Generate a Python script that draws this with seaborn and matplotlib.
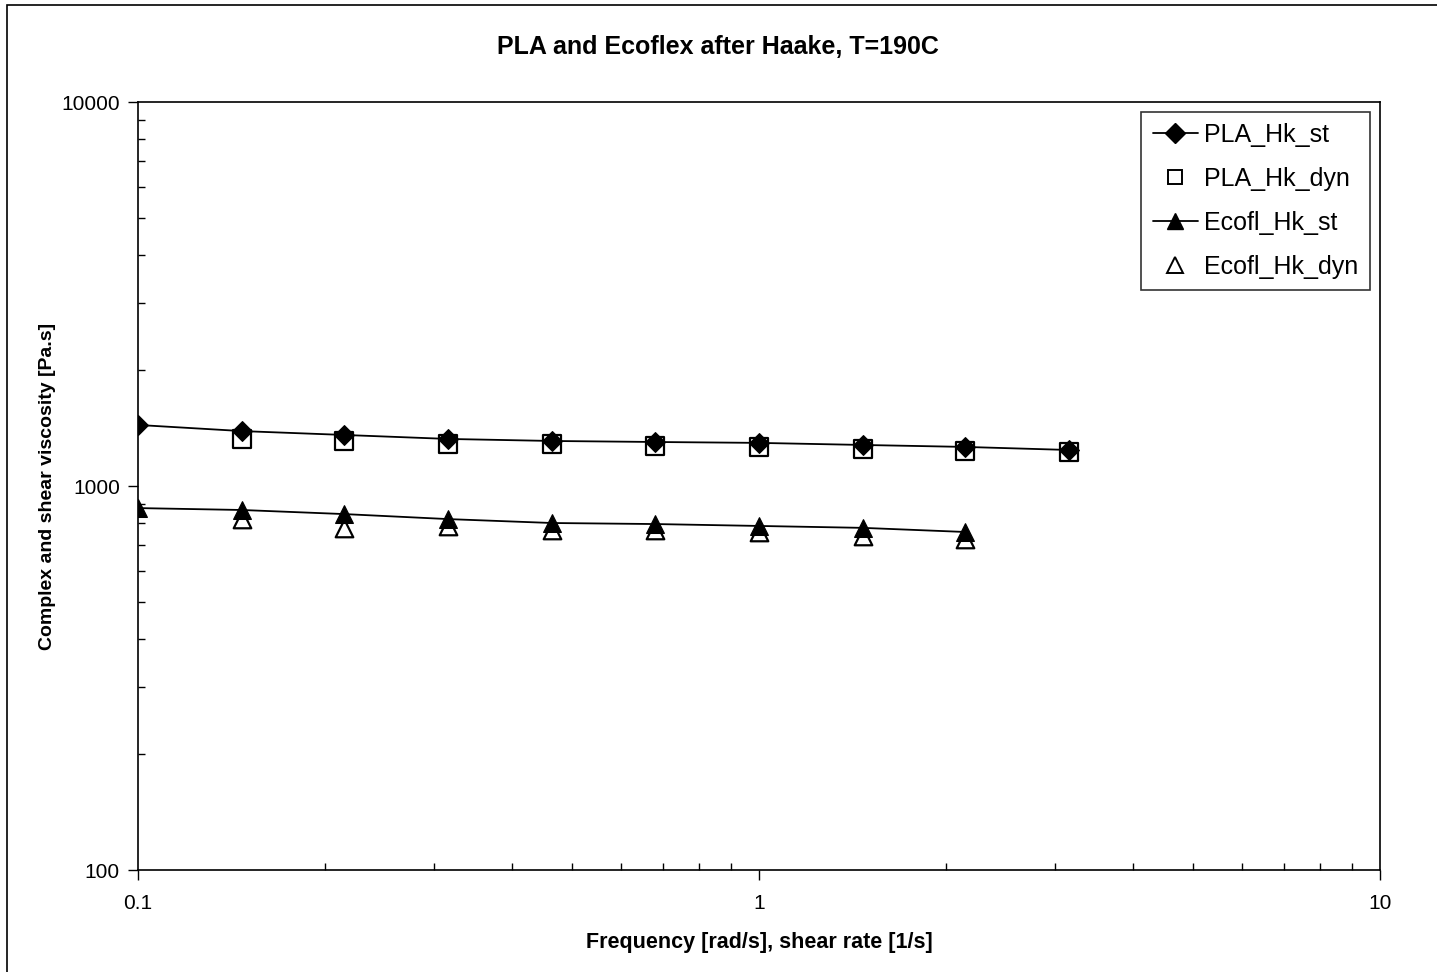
import numpy as np
import pandas as pd
import matplotlib
matplotlib.use("Agg")
import matplotlib.pyplot as plt
import seaborn as sns
from matplotlib.ticker import FixedLocator, FixedFormatter, LogLocator, NullFormatter
from matplotlib.patches import Rectangle
from matplotlib.lines import Line2D

sns.set_theme(style="white")
plt.rcParams['font.family'] = ['Liberation Sans', 'DejaVu Sans']
plt.rcParams['text.color'] = 'black'

# Data
freq = [0.1, 0.147, 0.215, 0.316, 0.464, 0.681, 1.0, 1.47, 2.15, 3.16]
pla_st = [1442, 1390, 1358, 1326, 1310, 1302, 1295, 1279, 1264, 1241]
pla_dyn = [None, 1326, 1310, 1287, 1287, 1271, 1264, 1249, 1234, 1226]
eco_st = [876, 866, 845, 820, 801, 796, 787, 778, 759, None]
eco_dyn = [None, 820, 778, 787, 768, 768, 759, 741, 728, None]

title = "PLA and Ecoflex after Haake, T=190C"
xlabel = "Frequency [rad/s], shear rate [1/s]"
ylabel = "Complex and shear viscosity [Pa.s]"
series_names = ["PLA_Hk_st", "PLA_Hk_dyn", "Ecofl_Hk_st", "Ecofl_Hk_dyn"]
xticks = [0.1, 1, 10]
xticklabels = ["0.1", "1", "10"]
yticks = [100, 1000, 10000]
yticklabels = ["100", "1000", "10000"]

def frame(vals, name):
    d = pd.DataFrame({"x": freq, "y": vals})
    d = d.dropna()
    d["series"] = name
    return d

fig = plt.figure(figsize=(14.37, 9.72), dpi=100)
ax = fig.add_axes([138/1437, 1-870/972, (1380-138)/1437, (870-102)/972])

d_pla_dyn = frame(pla_dyn, series_names[1])
d_eco_dyn = frame(eco_dyn, series_names[3])
d_pla_st = frame(pla_st, series_names[0])
d_eco_st = frame(eco_st, series_names[2])

sns.scatterplot(data=d_pla_dyn, x="x", y="y", ax=ax, marker="s", s=150,
                facecolor="white", edgecolor="black", linewidth=1.6, zorder=3)
sns.scatterplot(data=d_eco_dyn, x="x", y="y", ax=ax, marker="^", s=160,
                facecolor="white", edgecolor="black", linewidth=1.6, zorder=3)
sns.lineplot(data=d_pla_st, x="x", y="y", ax=ax, color="black", lw=1.3,
             marker="D", markersize=10, markerfacecolor="black",
             markeredgecolor="black", zorder=4)
sns.lineplot(data=d_eco_st, x="x", y="y", ax=ax, color="black", lw=1.3,
             marker="^", markersize=12.5, markerfacecolor="black",
             markeredgecolor="black", zorder=4)

ax.set_xscale("log")
ax.set_yscale("log")
ax.set_xlim(0.1, 10)
ax.set_ylim(100, 10000)

ax.xaxis.set_major_locator(FixedLocator(xticks))
ax.xaxis.set_major_formatter(FixedFormatter(xticklabels))
ax.yaxis.set_major_locator(FixedLocator(yticks))
ax.yaxis.set_major_formatter(FixedFormatter(yticklabels))
ax.xaxis.set_minor_locator(LogLocator(base=10, subs=np.arange(2, 10)))
ax.yaxis.set_minor_locator(LogLocator(base=10, subs=np.arange(2, 10)))
ax.xaxis.set_minor_formatter(NullFormatter())
ax.yaxis.set_minor_formatter(NullFormatter())

ax.tick_params(which="major", direction="out", length=7, width=1, color="black",
               labelsize=15, labelcolor="black", bottom=True, left=True)
ax.tick_params(axis="x", which="major", pad=10)
ax.tick_params(axis="y", which="major", pad=6)
ax.tick_params(which="minor", direction="in", length=5, width=1, color="black",
               bottom=True, left=True)
for sp in ax.spines.values():
    sp.set_visible(True)
    sp.set_color("black")
    sp.set_linewidth(1.2)
ax.grid(False)

ax.set_xlabel(xlabel, fontsize=15.5, fontweight="bold", color="black", labelpad=14)
ax.set_ylabel(ylabel, fontsize=14, fontweight="bold", color="black", labelpad=4)
fig.text(718/1437, 1-47/972, title, ha="center", va="center",
         fontsize=18, fontweight="bold", color="black")

handles = [
    Line2D([], [], color="black", lw=1.3, marker="D", markersize=10, markerfacecolor="black"),
    Line2D([], [], color="none", marker="s", markersize=10, markerfacecolor="white",
           markeredgecolor="black", markeredgewidth=1.4),
    Line2D([], [], color="black", lw=1.3, marker="^", markersize=12, markerfacecolor="black"),
    Line2D([], [], color="none", marker="^", markersize=11, markerfacecolor="white",
           markeredgecolor="black", markeredgewidth=1.4),
]
leg = ax.legend(handles, series_names, loc="upper right", bbox_to_anchor=(1370/1437, 1-112/972),
                bbox_transform=fig.transFigure, fontsize=18, frameon=True, fancybox=False,
                edgecolor="black", handlelength=1.8, handletextpad=0.28,
                labelspacing=0.8, borderpad=0.45, borderaxespad=0, labelcolor="black")
leg.get_frame().set_linewidth(1.2)

fig.patches.append(Rectangle((7/1437, -0.05), 1.1, 1-5/972+0.05, transform=fig.transFigure,
                             fill=False, edgecolor="black", lw=1.2, zorder=0))

fig.savefig("out.png", dpi=100)
